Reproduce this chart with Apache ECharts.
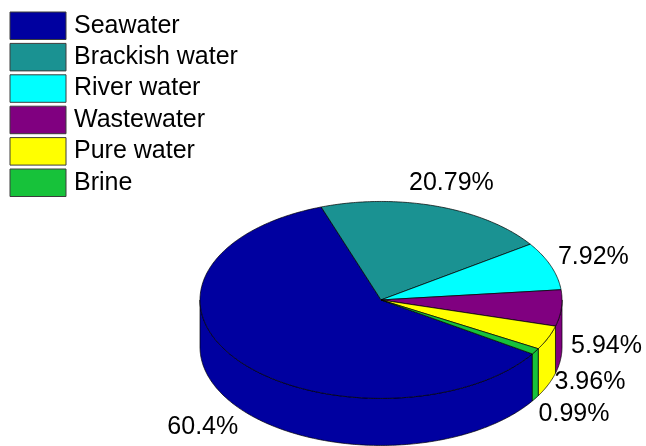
<!DOCTYPE html>
<html>
<head>
<meta charset="utf-8">
<script src="https://cdn.jsdelivr.net/npm/echarts/dist/echarts.min.js"></script>
<style>
  html, body { margin: 0; padding: 0; background: #fff; }
  #chart { width: 646px; height: 446px; }
</style>
</head>
<body>
<div id="chart"></div>
<script>
// Share of each feed water source (percent)
const categories = ['Seawater', 'Brackish water', 'River water', 'Wastewater', 'Pure water', 'Brine'];
const shares = [60.4, 20.79, 7.92, 5.94, 3.96, 0.99];
const colors = ['#0000A0', '#1A9292', '#00FFFF', '#800080', '#FFFF00', '#17C23A'];

// Geometry of the tilted disc, in axis units (unit radius)
const START_DEG = 326.74;   // first slice begins here, slices run clockwise
const TILT = 0.544;         // vertical squash of the top ellipse
const DEPTH = 0.26;         // thickness of the disc
const LABEL_R = 1.25;       // radius of percentage labels
const labelShift = [[0, 51], [0, 0], [0, 0], [0, 36], [0, 35], [0, 50]]; // pixel nudges

const FONT = '"Liberation Sans", Arial, sans-serif';

const total = shares.reduce((s, v) => s + v, 0);
const bounds = [];
(function () {
  let acc = START_DEG;
  shares.forEach(v => {
    const a = acc;
    acc -= v / total * 360;
    bounds.push([a, acc]);
  });
})();

function rimPoint(deg, r, z) {
  const t = deg * Math.PI / 180;
  return [r * Math.cos(t), TILT * r * Math.sin(t) - z];
}

function arcPoints(from, to, r, z) {
  const n = Math.max(2, Math.ceil(Math.abs(from - to) / 0.75) + 1);
  const pts = [];
  for (let i = 0; i < n; i++) {
    const d = from + (to - from) * i / (n - 1);
    pts.push(rimPoint(d, r, z));
  }
  return pts;
}

function labelText(v) {
  return parseFloat(v.toFixed(2)) + '%';
}

function renderSlice(params, api) {
  const i = params.seriesIndex;
  const [a, b] = bounds[i];
  const color = colors[i];
  const edge = { stroke: '#000', lineWidth: 0.7, fill: color };
  const children = [];

  // Outer wall on the near half of the disc (angles -180..0, modulo 360)
  for (let k = -1; k <= 1; k++) {
    const lo = Math.max(b, -180 + 360 * k);
    const hi = Math.min(a, 360 * k);
    if (hi > lo) {
      const pts = arcPoints(hi, lo, 1, 0).concat(arcPoints(lo, hi, 1, DEPTH));
      children.push({
        type: 'polygon',
        shape: { points: pts.map(p => api.coord(p)) },
        style: edge
      });
    }
  }

  // Top face of the slice
  const top = [[0, 0]].concat(arcPoints(a, b, 1, 0));
  children.push({
    type: 'polygon',
    shape: { points: top.map(p => api.coord(p)) },
    style: edge
  });

  // Percentage label
  const mid = (a + b) / 2;
  const lp = api.coord(rimPoint(mid, LABEL_R, 0));
  children.push({
    type: 'text',
    x: lp[0] + labelShift[i][0],
    y: lp[1] + labelShift[i][1],
    style: {
      text: labelText(shares[i]),
      fontSize: 25,
      fontFamily: FONT,
      fill: '#000',
      align: 'center',
      verticalAlign: 'middle'
    }
  });

  return { type: 'group', children: children };
}

const chart = echarts.init(document.getElementById('chart'), null, { renderer: 'canvas' });

chart.setOption({
  animation: false,
  backgroundColor: '#fff',
  grid: { left: 0, right: 0, top: 0, bottom: 0 },
  xAxis: { type: 'value', min: -2.105, max: 1.464, show: false },
  yAxis: { type: 'value', min: -0.807, max: 1.657, show: false },
  legend: {
    orient: 'vertical',
    left: 9.5,
    top: 11.5,
    padding: 0,
    itemWidth: 56,
    itemHeight: 27.5,
    itemGap: 2.9,
    icon: 'rect',
    selectedMode: false,
    itemStyle: { borderColor: '#3c3c3c', borderWidth: 1 },
    textStyle: {
      fontSize: 25,
      fontFamily: FONT,
      color: '#000',
      lineHeight: 27.5,
      padding: [0, 0, 0, 3]
    },
    data: categories
  },
  series: categories.map((name, i) => ({
    type: 'custom',
    name: name,
    coordinateSystem: 'cartesian2d',
    silent: true,
    itemStyle: { color: colors[i] },
    data: [[0, 0]],
    renderItem: renderSlice
  }))
});
</script>
</body>
</html>
